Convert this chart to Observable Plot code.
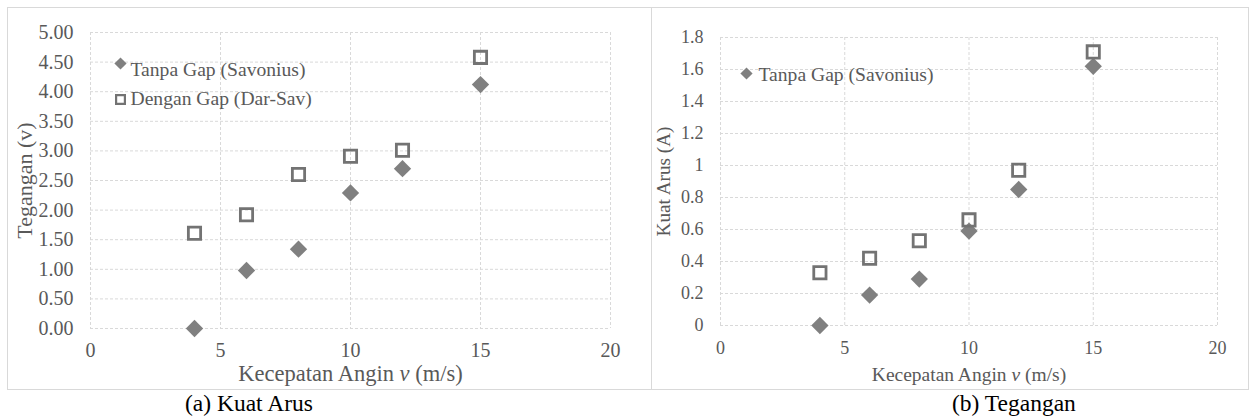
<!DOCTYPE html>
<html><head><meta charset="utf-8">
<script src="https://cdn.jsdelivr.net/npm/d3@7"></script>
<script src="https://cdn.jsdelivr.net/npm/@observablehq/plot@0.6"></script>
<style>
body{margin:0;background:#fff;width:1249px;height:419px;overflow:hidden;font-family:"Liberation Serif","Times New Roman",serif;}
#wrap{position:relative;width:1249px;height:419px;}
.box{position:absolute;border:1px solid #d9d9d9;box-sizing:border-box;pointer-events:none;}
.vline{position:absolute;background:#d9d9d9;width:1px;pointer-events:none;}
.cap{position:absolute;font-size:23.5px;line-height:23.5px;color:#000;white-space:nowrap;}
.chart{position:absolute;top:0;}
</style></head>
<body><div id="wrap"></div>
<script>
const speeds = [4, 6, 8, 10, 12, 15];
const teganganTanpaGap = [0.00, 0.98, 1.34, 2.29, 2.70, 4.12];
const teganganDenganGap = [1.61, 1.92, 2.60, 2.91, 3.01, 4.58];
const arusTanpaGap = [0.00, 0.19, 0.29, 0.59, 0.85, 1.62];
const arusDenganGap = [0.33, 0.42, 0.53, 0.66, 0.97, 1.71];
const xTicks = [0, 5, 10, 15, 20];
const teganganTicks = [0, 0.5, 1, 1.5, 2, 2.5, 3, 3.5, 4, 4.5, 5];
const arusTicks = [0, 0.2, 0.4, 0.6, 0.8, 1, 1.2, 1.4, 1.6, 1.8];
const seriesNames = ["Tanpa Gap (Savonius)", "Dengan Gap (Dar-Sav)"];
const xTitle = "Kecepatan Angin v (m/s)";
const yTitleA = "Tegangan (v)";
const yTitleB = "Kuat Arus (A)";
const captions = ["(a) Kuat Arus", "(b) Tegangan"];

const FONT = '"Liberation Serif", "Times New Roman", serif';
const TEXT = "#595959", GRID = "#d9d9d9", DIAMOND = "#808080", SQUARE = "#737373";

function rows(a, b) {
  return speeds.map((s, i) => ({v: s, tanpa: a[i], dengan: b[i]}));
}

function makeChart(cfg) {
  const data = rows(cfg.a, cfg.b);
  const marks = [
    Plot.gridX(xTicks, {stroke: GRID, strokeOpacity: 1, strokeDasharray: "3 2"}),
    Plot.gridY(cfg.yTicks, {stroke: GRID, strokeOpacity: 1, strokeDasharray: "3 2"}),
    Plot.axisX({ticks: xTicks, tickSize: 0, tickPadding: cfg.xPad, fontSize: cfg.tickFs, fill: TEXT, label: null, tickFormat: d => String(d)}),
    Plot.axisY({ticks: cfg.yTicks, tickSize: 0, tickPadding: 17, fontSize: cfg.tickFs, fill: TEXT, label: null, tickFormat: cfg.yFmt}),
    Plot.dot(data, {x: "v", y: "tanpa", symbol: "diamond2", r: cfg.rD, fill: DIAMOND, stroke: "none"}),
    Plot.dot(data, {x: "v", y: "dengan", symbol: "square2", r: cfg.rS, fill: "none", stroke: SQUARE, strokeWidth: 2.8}),
    Plot.text([xTitle], {text: d => d, frameAnchor: "bottom", lineAnchor: "middle", textAnchor: "middle", dy: cfg.xTitleDy, fontSize: cfg.titleFs, fill: TEXT}),
    Plot.text([cfg.yTitle], {text: d => d, frameAnchor: "left", lineAnchor: "middle", textAnchor: "middle", rotate: -90, dx: cfg.yTitleDx, fontSize: cfg.yTitleFs, fill: TEXT})
  ];
  cfg.legend.forEach(L => {
    marks.push(Plot.dot([L.name], {frameAnchor: "top-left", dx: L.sdx, dy: L.sdy, symbol: L.symbol, r: L.r,
      fill: L.symbol === "diamond2" ? DIAMOND : "none", stroke: L.symbol === "diamond2" ? "none" : SQUARE, strokeWidth: 2.2}));
    marks.push(Plot.text([L.name], {text: d => d, frameAnchor: "top-left", dx: L.tdx, dy: L.tdy, textAnchor: "start", lineAnchor: "middle", fontSize: 19.6, fill: TEXT}));
  });
  const svg = Plot.plot({
    width: cfg.width, height: 389,
    marginLeft: cfg.ml, marginRight: cfg.mr, marginTop: cfg.mt, marginBottom: cfg.mb,
    x: {domain: [0, 20]},
    y: {domain: cfg.yDomain},
    style: {background: "transparent", color: TEXT, fontFamily: FONT},
    marks
  });
  const sel = d3.select(svg);
  sel.selectAll("text, g").style("font-family", FONT);
  sel.selectAll("text").filter(function() { return this.textContent === xTitle; }).each(function() {
    const t = d3.select(this);
    t.text(null);
    t.append("tspan").text("Kecepatan Angin ");
    t.append("tspan").attr("font-style", "italic").text("v");
    t.append("tspan").text(" (m/s)");
  });
  return svg;
}

const wrap = document.getElementById("wrap");

const left = document.createElement("div");
left.className = "chart"; left.style.left = "0px";
left.appendChild(makeChart({
  a: teganganTanpaGap, b: teganganDenganGap, yTicks: teganganTicks, yDomain: [0, 5],
  yFmt: d3.format(".2f"), width: 651, ml: 90, mr: 41, mt: 32, mb: 61,
  tickFs: 20, xPad: 14, titleFs: 22.5, yTitleFs: 22, xTitleDy: 45, yTitleDx: -66, yTitle: yTitleA,
  rD: 7.8, rS: 7.8,
  legend: [
    {name: seriesNames[0], symbol: "diamond2", r: 5.5, sdx: 30, sdy: 31, tdx: 40, tdy: 37},
    {name: seriesNames[1], symbol: "square2", r: 5.6, sdx: 30, sdy: 67, tdx: 40, tdy: 66}
  ]
}));
wrap.appendChild(left);

const right = document.createElement("div");
right.className = "chart"; right.style.left = "652px";
right.appendChild(makeChart({
  a: arusTanpaGap, b: arusDenganGap, yTicks: arusTicks, yDomain: [0, 1.8],
  yFmt: d => String(+d.toFixed(1)), width: 596, ml: 68, mr: 31, mt: 37, mb: 64,
  tickFs: 18, xPad: 16, titleFs: 19.5, yTitleFs: 19.2, xTitleDy: 49, yTitleDx: -57, yTitle: yTitleB,
  rD: 7.8, rS: 7.8,
  legend: [
    {name: seriesNames[0], symbol: "diamond2", r: 5.5, sdx: 26, sdy: 36, tdx: 38, tdy: 37}
  ]
}));
wrap.appendChild(right);

const box = document.createElement("div");
box.className = "box";
Object.assign(box.style, {left: "7px", top: "7px", width: "1242px", height: "383px"});
wrap.appendChild(box);
const vl = document.createElement("div");
vl.className = "vline";
Object.assign(vl.style, {left: "651px", top: "7px", height: "383px"});
wrap.appendChild(vl);

[[captions[0], 185], [captions[1], 952]].forEach(([t, x]) => {
  const c = document.createElement("div");
  c.className = "cap";
  c.textContent = t;
  Object.assign(c.style, {left: x + "px", top: "392px"});
  wrap.appendChild(c);
});
</script>
</body></html>
